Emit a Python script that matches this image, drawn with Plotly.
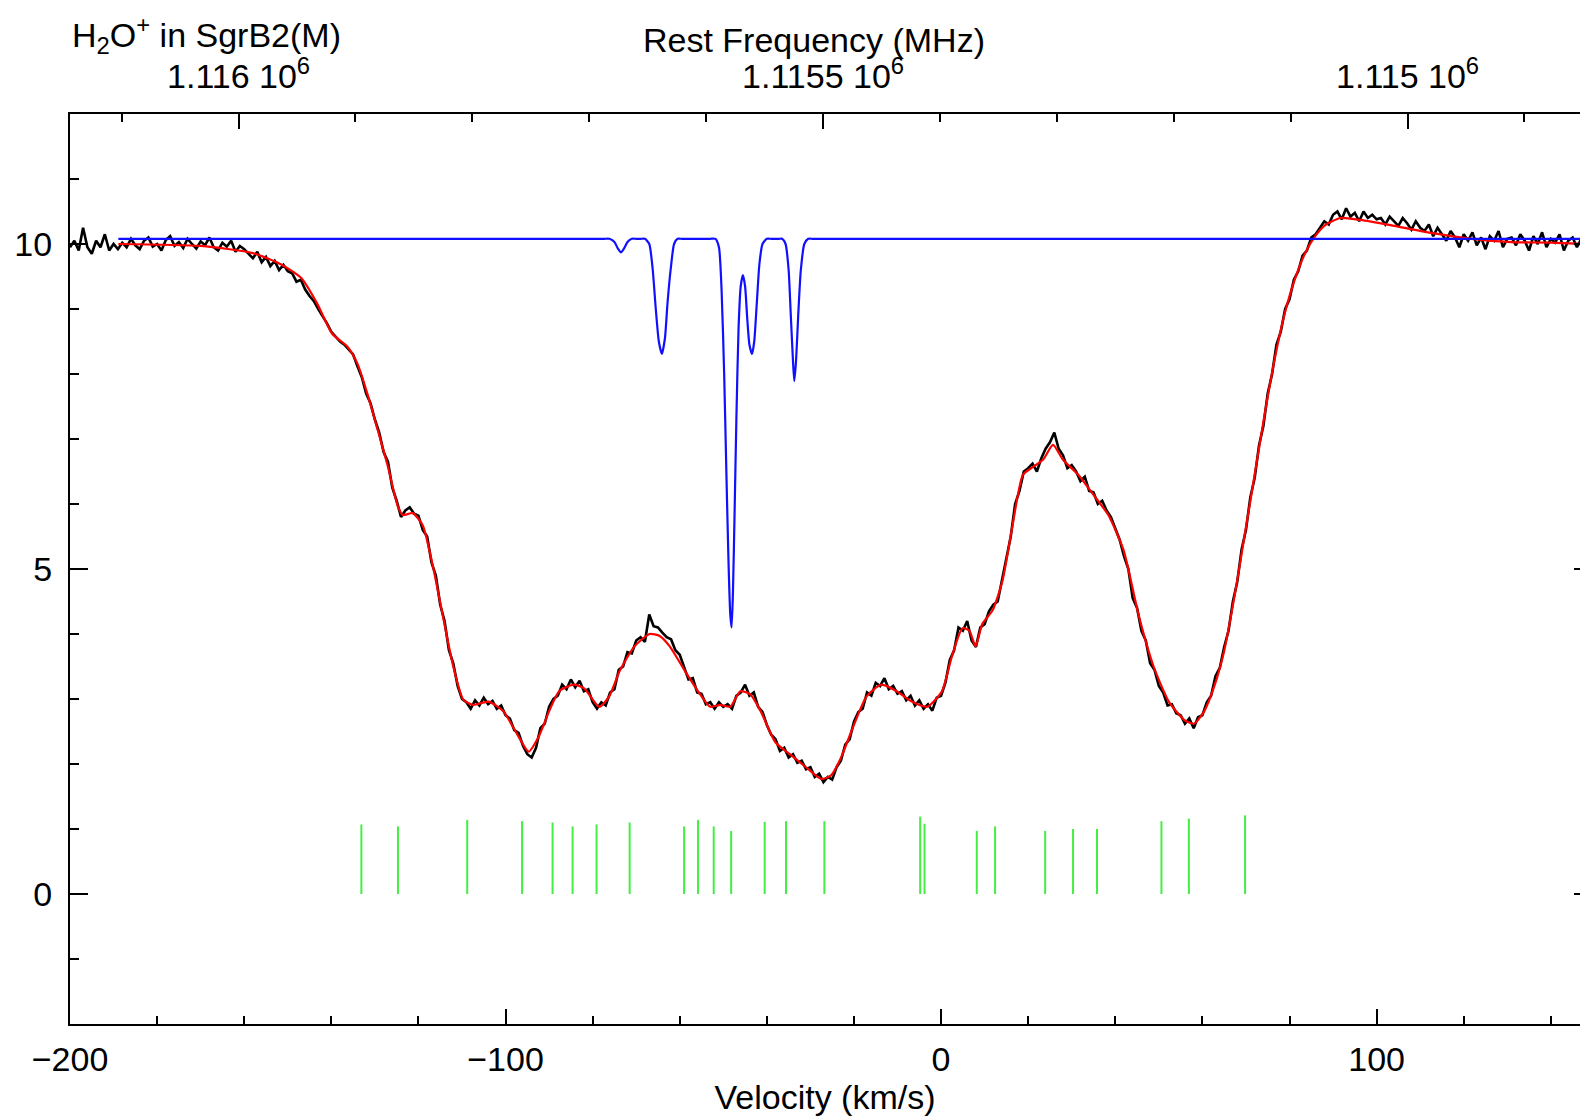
import numpy as np
import plotly.graph_objects as go

# ---------------- data ----------------
# observed spectrum (black), 1 km/s channels from -200 to 147 km/s
vel_obs = np.arange(-200, 148, 1)
t_obs = [
    9.95, 10.05, 9.9, 10.25, 9.95, 9.85, 10.05, 9.95, 10.15, 9.9, 10.0, 9.92,
    10.02, 9.95, 10.08, 9.98, 9.92, 10.05, 10.1, 9.96, 10.0, 9.9, 10.06, 10.12, 9.97, 10.03, 9.94,
    10.08, 10.0, 9.93, 10.04, 9.98, 10.1, 9.95, 9.9, 10.02, 9.96, 10.05, 9.88, 9.97, 9.92,
    9.85, 9.78, 9.88, 9.72, 9.8, 9.66, 9.74, 9.6, 9.68, 9.58,
    9.55, 9.42, 9.45, 9.3, 9.2, 9.12, 9.0, 8.9, 8.78, 8.65,
    8.58, 8.5, 8.45, 8.38, 8.3, 8.12, 7.95, 7.7, 7.55, 7.3,
    7.1, 6.8, 6.65, 6.25, 6.05, 5.8, 5.9, 5.95, 5.85, 5.82,
    5.6, 5.5, 5.1, 4.9, 4.45, 4.2, 3.75, 3.55, 3.2, 3.0,
    2.95, 2.85, 2.98, 2.9, 3.02, 2.92, 2.97, 2.85, 2.9, 2.75,
    2.7, 2.52, 2.48, 2.28, 2.15, 2.1, 2.25, 2.55, 2.62, 2.88,
    3.0, 3.05, 3.22, 3.15, 3.3, 3.18, 3.28, 3.12, 3.15, 2.95,
    2.85, 2.95, 2.9, 3.1, 3.15, 3.45, 3.5, 3.72, 3.7, 3.9,
    3.95, 3.88, 4.3, 4.12, 4.1, 4.02, 3.95, 3.92, 3.75, 3.68,
    3.5, 3.3, 3.32, 3.1, 3.08, 2.92, 2.95, 2.85, 2.95, 2.88,
    2.92, 2.85, 3.05, 3.1, 3.22, 3.05, 3.1, 2.88, 2.8, 2.6,
    2.45, 2.38, 2.2, 2.25, 2.1, 2.15, 2.02, 2.05, 1.92, 1.95,
    1.8, 1.85, 1.72, 1.8, 1.76, 1.95, 2.05, 2.3, 2.38, 2.65,
    2.8, 2.85, 3.1, 3.05, 3.25, 3.2, 3.32, 3.15, 3.2, 3.08,
    3.12, 2.98, 3.05, 2.9, 2.98, 2.85, 2.92, 2.82, 3.02, 3.05,
    3.25, 3.6, 3.75, 4.1, 4.05, 4.2, 3.9, 3.8, 4.1, 4.15,
    4.35, 4.45, 4.5, 4.85, 5.2, 5.5, 6.0, 6.2, 6.5, 6.55,
    6.62, 6.5, 6.7, 6.85, 6.95, 7.1, 6.85, 6.75, 6.55, 6.6,
    6.5, 6.35, 6.42, 6.2, 6.18, 6.0, 6.05, 5.9, 5.8, 5.62,
    5.45, 5.2, 5.0, 4.55, 4.4, 4.05, 3.9, 3.55, 3.45, 3.2,
    3.1, 2.9, 2.92, 2.78, 2.75, 2.62, 2.7, 2.55, 2.72, 2.75,
    2.95, 3.05, 3.35, 3.48, 3.8, 4.05, 4.5, 4.8, 5.3, 5.6,
    6.1, 6.4, 6.9, 7.2, 7.7, 8.0, 8.45, 8.65, 9.0, 9.15,
    9.45, 9.58, 9.82, 9.9, 10.1, 10.15, 10.25, 10.35, 10.3, 10.45,
    10.5, 10.38, 10.55, 10.42, 10.48, 10.35, 10.5, 10.4, 10.45, 10.38,
    10.4, 10.3, 10.42, 10.35, 10.28, 10.4, 10.32, 10.22, 10.35, 10.25,
    10.2, 10.3, 10.12, 10.25, 10.15, 10.05, 10.2, 10.1, 9.95, 10.15,
    10.05, 10.18, 9.98, 10.1, 9.92, 10.12, 10.05, 10.2, 9.95, 10.08,
    10.1, 9.98, 10.15, 10.05, 9.9, 10.12, 10.0, 10.18, 9.95, 10.08, 10.02, 10.15, 9.9, 10.05, 10.1, 9.95, 10.08,
]

# fitted profile (red)
vel_fit = [-188.9, -170, -158, -151.4, -146.8, -143.3, -139.8, -136.3, -134, -131.7, -129.4, -127.1,
           -124.8, -123.6, -121.3, -119, -116.7, -114.4, -112, -109.7, -107.4, -103.9, -100.5, -97,
           -94.7, -92.4, -90, -87.7, -84.3, -81.9, -78.5, -76.2, -73.8, -70.4, -66.9, -64.6, -62.3,
           -58.8, -55.3, -53, -50.7, -48.4, -46.1, -43.8, -41.4, -38, -34.5, -31, -27.5, -25.2, -22.9,
           -20.6, -17.1, -13.7, -10.2, -6.7, -3.2, 0.2, 2.5, 4.9, 6.5, 7.9, 9.5, 11.8, 14.1, 16.4,
           18.8, 21.1, 23.4, 25.7, 28, 31.5, 35, 38.4, 41.9, 45.4, 48.8, 52.3, 55.8, 58.1, 60.4,
           62.7, 65, 67.4, 69.7, 72, 74.3, 76.6, 78.9, 81.3, 83.6, 85.9, 88.2, 91.7, 96.3, 103.2,
           112.5, 121.8, 131, 140.3, 147]
t_fit = [10.0, 9.97, 9.86, 9.68, 9.47, 9.09, 8.62, 8.42, 8.16, 7.69, 7.15, 6.6,
         5.98, 5.83, 5.86, 5.67, 5.05, 4.28, 3.5, 2.99, 2.91, 2.96, 2.81, 2.42,
         2.19, 2.42, 2.81, 3.12, 3.22, 3.16, 2.88, 3.04, 3.43, 3.81, 4.0, 3.97, 3.81,
         3.43, 3.07, 2.88, 2.91, 2.88, 3.12, 3.07, 2.81, 2.33, 2.14, 1.95, 1.77, 1.83, 2.11,
         2.5, 3.04, 3.22, 3.12, 2.96, 2.88, 3.12, 3.66, 4.09, 4.05, 3.81, 4.16, 4.36, 4.82, 5.67,
         6.45, 6.57, 6.68, 6.91, 6.68, 6.45, 6.14, 5.83, 5.29, 4.28, 3.5, 2.96, 2.68, 2.62, 2.81,
         3.19, 3.74, 4.59, 5.52, 6.45, 7.38, 8.23, 8.93, 9.47, 9.86, 10.12, 10.29, 10.4, 10.37, 10.29,
         10.17, 10.08, 10.03, 10.02, 10.0]

# model of the H2O+ hyperfine components (blue)
vel_model = [-188.9, -150, -110, -85, -78.5, -77.3, -76.2, -75.0, -74.2, -73.5, -72.8, -72.0, -71.0,
             -70.0, -69.0, -68.0, -67.0, -66.2, -65.5, -64.8, -64.1, -63.4, -62.8, -62.1, -61.3, -60.5,
             -59.5, -57.0, -54.5, -53.0, -51.8, -51.0, -50.4, -49.8, -49.3, -48.8, -48.4, -48.1,
             -47.8, -47.4, -47.0, -46.5, -46.0, -45.5, -45.0, -44.5, -44.0, -43.4, -42.9, -42.3,
             -41.7, -41.0, -40.0, -39.0, -38.0, -37.2, -36.5, -35.7, -35.0, -34.5, -34.0, -33.7,
             -33.3, -32.8, -32.2, -31.4, -30.5, -29.5, -28.0, -20.0, 0, 30, 60, 90, 120, 147]
t_model = [10.08, 10.08, 10.08, 10.08, 10.08, 10.08, 10.08, 10.03, 9.93, 9.87, 9.93, 10.03, 10.08,
           10.08, 10.08, 10.08, 10.0, 9.6, 9.0, 8.5, 8.31, 8.55, 9.1, 9.6, 10.0, 10.08,
           10.08, 10.08, 10.08, 10.08, 10.08, 9.95, 9.3, 8.0, 6.5, 5.1, 4.3, 4.1,
           4.6, 5.9, 7.3, 8.7, 9.35, 9.52, 9.35, 8.85, 8.45, 8.31, 8.5, 9.1,
           9.7, 10.0, 10.08, 10.08, 10.08, 10.08, 10.08, 10.0, 9.6, 8.9, 8.2, 7.89,
           8.2, 8.9, 9.6, 10.0, 10.08, 10.08, 10.08, 10.08, 10.08, 10.08, 10.08, 10.08, 10.08, 10.08]

# velocity components (green markers) and their heights
comp_vel = [-133.1, -124.7, -108.8, -96.2, -89.2, -84.6, -79.1, -71.5, -59.0, -55.8, -52.2,
            -48.2, -40.5, -35.6, -26.8, -4.8, -3.8, 8.2, 12.4, 23.9, 30.3, 35.8, 50.6, 56.9, 69.8]
comp_height = [1.07, 1.04, 1.14, 1.12, 1.10, 1.04, 1.07, 1.10, 1.04, 1.14, 1.04,
               0.97, 1.11, 1.12, 1.12, 1.19, 1.08, 0.97, 1.04, 0.97, 1.0, 1.0, 1.12, 1.16, 1.21]

# top axis (rest frequency, MHz)
freq_ticks = [1116000, 1115500, 1115000]
freq_labels = ["1.116 10<sup>6</sup>", "1.1155 10<sup>6</sup>", "1.115 10<sup>6</sup>"]
vel_range = [-200, 146.7]
freq_range = [1116144.2, 1114852.5]
y_range = [-2, 12]

# ---------------- figure ----------------
FONT = "Liberation Sans"
fig = go.Figure()

fig.add_trace(go.Scatter(x=vel_obs, y=t_obs, mode="lines",
                         line=dict(color="black", width=2.6), hoverinfo="skip"))
fig.add_trace(go.Scatter(x=vel_fit, y=t_fit, mode="lines",
                         line=dict(color="#ff0000", width=2.2, shape="spline", smoothing=0.6),
                         hoverinfo="skip"))
fig.add_trace(go.Scatter(x=vel_model, y=t_model, mode="lines",
                         line=dict(color="#1010ff", width=2.2, shape="spline", smoothing=0.6),
                         hoverinfo="skip"))

gx, gy = [], []
for v, h in zip(comp_vel, comp_height):
    gx += [v, v, None]
    gy += [0, h, None]
fig.add_trace(go.Scatter(x=gx, y=gy, mode="lines",
                         line=dict(color="#44ee44", width=2), hoverinfo="skip"))

# dummy traces to anchor the frequency axis and the right-hand y ticks
fig.add_trace(go.Scatter(x=freq_ticks, y=[None] * len(freq_ticks), xaxis="x2",
                         mode="lines", hoverinfo="skip"))
fig.add_trace(go.Scatter(x=vel_range, y=[None, None], yaxis="y2",
                         mode="lines", hoverinfo="skip"))

axis_font = dict(family=FONT, size=34, color="black")

fig.update_layout(
    width=1580, height=1116,
    margin=dict(l=70, r=0, t=114, b=92),
    paper_bgcolor="white", plot_bgcolor="white",
    showlegend=False,
    font=dict(family=FONT, color="black"),
    xaxis=dict(
        range=vel_range, showgrid=False, zeroline=False,
        showline=True, linecolor="black", linewidth=2, mirror=False,
        tickmode="linear", tick0=0, dtick=100,
        ticks="inside", ticklen=15, tickwidth=1.5, tickcolor="black",
        minor=dict(tick0=0, dtick=20, ticks="inside", ticklen=8, tickwidth=1.5, tickcolor="black"),
        tickfont=axis_font, ticklabelstandoff=4,
        title=dict(text="Velocity (km/s)", font=axis_font, standoff=12),
    ),
    xaxis2=dict(
        overlaying="x", side="top", range=freq_range, showgrid=False, zeroline=False,
        showline=True, linecolor="black", linewidth=2,
        tickmode="array", tickvals=freq_ticks, ticktext=freq_labels,
        ticks="inside", ticklen=15, tickwidth=1.5, tickcolor="black",
        minor=dict(tick0=1115000, dtick=100, ticks="inside", ticklen=8, tickwidth=1.5, tickcolor="black"),
        tickfont=axis_font, ticklabelstandoff=10,
    ),
    yaxis=dict(
        range=y_range, showgrid=False, zeroline=False,
        showline=True, linecolor="black", linewidth=2, mirror=False,
        tickmode="linear", tick0=0, dtick=5,
        ticks="inside", ticklen=18, tickwidth=1.5, tickcolor="black",
        minor=dict(tick0=0, dtick=1, ticks="inside", ticklen=9, tickwidth=1.5, tickcolor="black"),
        tickfont=axis_font, ticklabelstandoff=9,
    ),
    yaxis2=dict(
        overlaying="y", side="right", range=y_range, showgrid=False, zeroline=False,
        showline=False, showticklabels=False,
        tickmode="linear", tick0=0, dtick=5,
        ticks="inside", ticklen=6, tickwidth=1.5, tickcolor="black",
    ),
)

fig.add_annotation(text="H<sub>2</sub>O<sup>+</sup> in SgrB2(M)", xref="paper", yref="paper",
                   x=0.0, y=1.087, xanchor="left", yanchor="middle", showarrow=False,
                   font=dict(family=FONT, size=34, color="black"))
fig.add_annotation(text="Rest Frequency (MHz)", xref="paper", yref="paper",
                   x=0.4927, y=1.081, xanchor="center", yanchor="middle", showarrow=False,
                   font=dict(family=FONT, size=34, color="black"))

fig.write_html("out.html")
